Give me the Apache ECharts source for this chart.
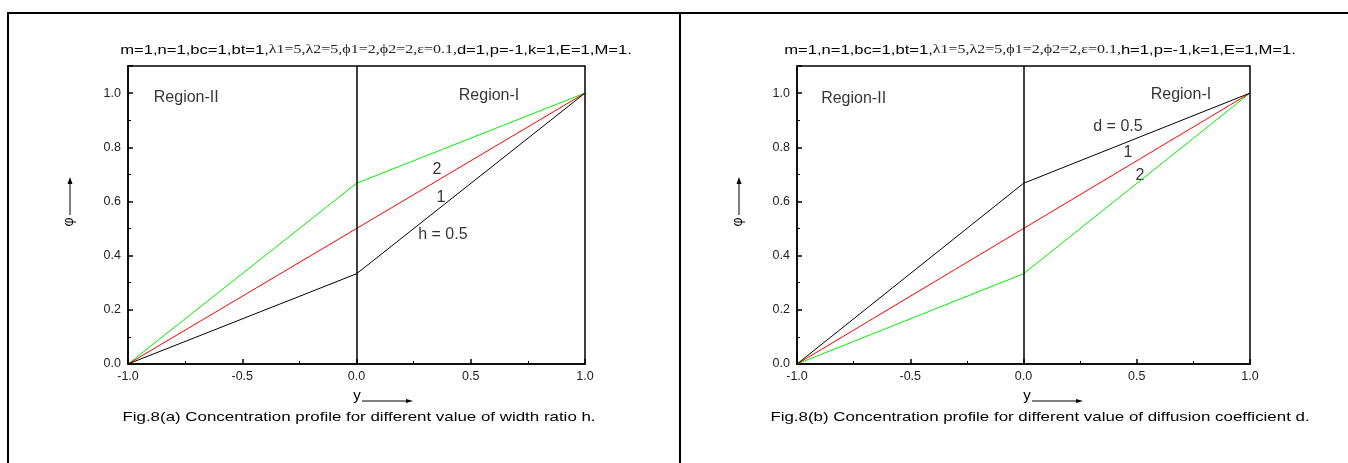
<!DOCTYPE html>
<html><head><meta charset="utf-8">
<script src="https://cdn.jsdelivr.net/npm/echarts@6/dist/echarts.min.js"></script>
<style>html,body{margin:0;padding:0;background:#fff}#c{width:1348px;height:463px}</style>
</head><body><div id="c"></div>
<script>
// ---- data ----
const yNodes = [-1, 0, 1];
// Fig 8(a): varying width ratio h
const phiA_h05 = [0, 0.333, 1];
const phiA_h1  = [0, 0.5, 1];
const phiA_h2  = [0, 0.667, 1];
// Fig 8(b): varying diffusion coefficient d
const phiB_d05 = [0, 0.667, 1];
const phiB_d1  = [0, 0.5, 1];
const phiB_d2  = [0, 0.333, 1];
const xTicks = { min: -1, max: 1, interval: 0.5 };
const yTicks = { min: 0, max: 1.1, interval: 0.2 };
// annotation labels [x, y, text]
const notesA = [[-0.745, 0.985, 'Region-II'], [0.58, 0.989, 'Region-I'], [0.352, 0.716, '2'], [0.370, 0.616, '1'], [0.378, 0.476, 'h = 0.5']];
const notesB = [[-0.75, 0.978, 'Region-II'], [0.695, 0.996, 'Region-I'], [0.417, 0.875, 'd = 0.5'], [0.461, 0.782, '1'], [0.514, 0.697, '2']];
const titleA = ['m=1,n=1,bc=1,bt=1,', 'λ1=5,λ2=5,ϕ1=2,ϕ2=2,ε=0.1,', 'd=1,p=-1,k=1,E=1,M=1.'];
const titleB = ['m=1,n=1,bc=1,bt=1,', 'λ1=5,λ2=5,ϕ1=2,ϕ2=2,ε=0.1,', 'h=1,p=-1,k=1,E=1,M=1.'];
const captionA = 'Fig.8(a) Concentration profile for different value of width ratio h.';
const captionB = 'Fig.8(b) Concentration profile for different value of diffusion coefficient d.';

const F = 'Liberation Sans, Arial, sans-serif';
const pts = arr => yNodes.map((x, i) => [x, arr[i]]);

function xAx(g) {
  return { type: 'value', gridIndex: g, min: xTicks.min, max: xTicks.max, interval: xTicks.interval,
    axisLine: { show: true, onZero: false, lineStyle: { color: '#000', width: 1.5 } },
    axisTick: { inside: true, length: 5, lineStyle: { color: '#000', width: 1.5 } },
    minorTick: { show: true, splitNumber: 2, length: 3, lineStyle: { color: '#000', width: 1 } },
    axisLabel: { color: '#222', fontFamily: F, fontSize: 12.5, margin: 6, formatter: v => v.toFixed(1) },
    splitLine: { show: false } };
}
function yAx(g) {
  return { type: 'value', gridIndex: g, min: yTicks.min, max: yTicks.max, interval: yTicks.interval,
    axisLine: { show: true, onZero: false, lineStyle: { color: '#000', width: 1.5 } },
    axisTick: { inside: true, length: 5, lineStyle: { color: '#000', width: 1.5 } },
    minorTick: { show: true, splitNumber: 2, length: 3, lineStyle: { color: '#000', width: 1 } },
    axisLabel: { color: '#222', fontFamily: F, fontSize: 12.5, margin: 7, showMaxLabel: false, formatter: v => v.toFixed(1) },
    splitLine: { show: false } };
}
function line(g, data, color) {
  return { type: 'line', xAxisIndex: g, yAxisIndex: g, data: pts(data), symbol: 'none',
    lineStyle: { color: color, width: 1 }, silent: true, animation: false, z: 3 };
}
function notes(g, arr) {
  return { type: 'scatter', xAxisIndex: g, yAxisIndex: g, symbolSize: 0, animation: false, silent: true,
    data: arr.map(a => ({ value: [a[0], a[1]], label: { formatter: a[2] } })),
    label: { show: true, position: 'inside', color: '#000', fontFamily: F, fontSize: 16 } };
}
function divider(g) {
  return { type: 'line', xAxisIndex: g, yAxisIndex: g, data: [], animation: false, silent: true,
    markLine: { symbol: 'none', silent: true, animation: false, label: { show: false },
      lineStyle: { color: '#000', width: 1.5, type: 'solid' }, data: [{ xAxis: 0 }] } };
}
function titleText(parts, x) {
  return { type: 'text', x: x, y: 50, scaleX: 1.23, style: {
    text: '{a|' + parts[0] + '}{b|' + parts[1] + '}{a|' + parts[2] + '}', align: 'center', verticalAlign: 'middle',
    rich: { a: { fontFamily: F, fontSize: 13.5, fill: '#000' }, b: { fontFamily: 'Liberation Serif, Times New Roman, serif', fontSize: 13, fill: '#222' } } } };
}
function caption(text, x) {
  return { type: 'text', x: x, y: 417, scaleX: 1.3, style: { text: text, font: '13px Liberation Sans', fill: '#000', align: 'center', verticalAlign: 'middle' } };
}

const chart = echarts.init(document.getElementById('c'), null, { renderer: 'canvas' });
chart.setOption({
  animation: false,
  backgroundColor: '#fff',
  grid: [
    { left: 128, right: 763, top: 66, bottom: 99, show: true, borderColor: '#000', borderWidth: 1.5 },
    { left: 797, right: 98, top: 66, bottom: 99, show: true, borderColor: '#000', borderWidth: 1.5 }
  ],
  xAxis: [xAx(0), xAx(1)],
  yAxis: [yAx(0), yAx(1)],
  series: [
    line(0, phiA_h2, '#00ee00'), line(0, phiA_h1, '#ff0000'), line(0, phiA_h05, '#000000'),
    line(1, phiB_d2, '#00ee00'), line(1, phiB_d1, '#ff0000'), line(1, phiB_d05, '#000000'),
    divider(0), divider(1), notes(0, notesA), notes(1, notesB)
  ],
  graphic: [
    // outer panel frames
    { type: 'polyline', shape: { points: [[8, 463], [8, 13], [1348, 13]] }, style: { stroke: '#000', lineWidth: 2, fill: null } },
    { type: 'line', shape: { x1: 680, y1: 13, x2: 680, y2: 463 }, style: { stroke: '#000', lineWidth: 2 } },
    titleText(titleA, 376), titleText(titleB, 1040),
    // y-axis name phi with arrow (a)
    { type: 'text', x: 69, y: 222, rotation: Math.PI / 2, style: { text: 'φ', font: '14px Liberation Sans', fill: '#000', align: 'center', verticalAlign: 'middle' } },
    { type: 'line', shape: { x1: 70, y1: 215, x2: 70, y2: 183 }, style: { stroke: '#000', lineWidth: 1 } },
    { type: 'polygon', shape: { points: [[70, 177], [67.5, 184], [72.5, 184]] }, style: { fill: '#000' } },
    // y-axis name phi with arrow (b)
    { type: 'text', x: 738, y: 222, rotation: Math.PI / 2, style: { text: 'φ', font: '14px Liberation Sans', fill: '#000', align: 'center', verticalAlign: 'middle' } },
    { type: 'line', shape: { x1: 739, y1: 215, x2: 739, y2: 183 }, style: { stroke: '#000', lineWidth: 1 } },
    { type: 'polygon', shape: { points: [[739, 177], [736.5, 184], [741.5, 184]] }, style: { fill: '#000' } },
    // x-axis name y with arrow (a)
    { type: 'text', x: 357, y: 396, style: { text: 'y', font: '15px Liberation Sans', fill: '#000', align: 'center', verticalAlign: 'middle' } },
    { type: 'line', shape: { x1: 362, y1: 401, x2: 407, y2: 401 }, style: { stroke: '#000', lineWidth: 1 } },
    { type: 'polygon', shape: { points: [[413, 401], [406, 399], [406, 403]] }, style: { fill: '#000' } },
    // x-axis name y with arrow (b)
    { type: 'text', x: 1027, y: 396, style: { text: 'y', font: '15px Liberation Sans', fill: '#000', align: 'center', verticalAlign: 'middle' } },
    { type: 'line', shape: { x1: 1032, y1: 401, x2: 1077, y2: 401 }, style: { stroke: '#000', lineWidth: 1 } },
    { type: 'polygon', shape: { points: [[1083, 401], [1076, 399], [1076, 403]] }, style: { fill: '#000' } },
    caption(captionA, 359), caption(captionB, 1040)
  ]
});
</script></body></html>
